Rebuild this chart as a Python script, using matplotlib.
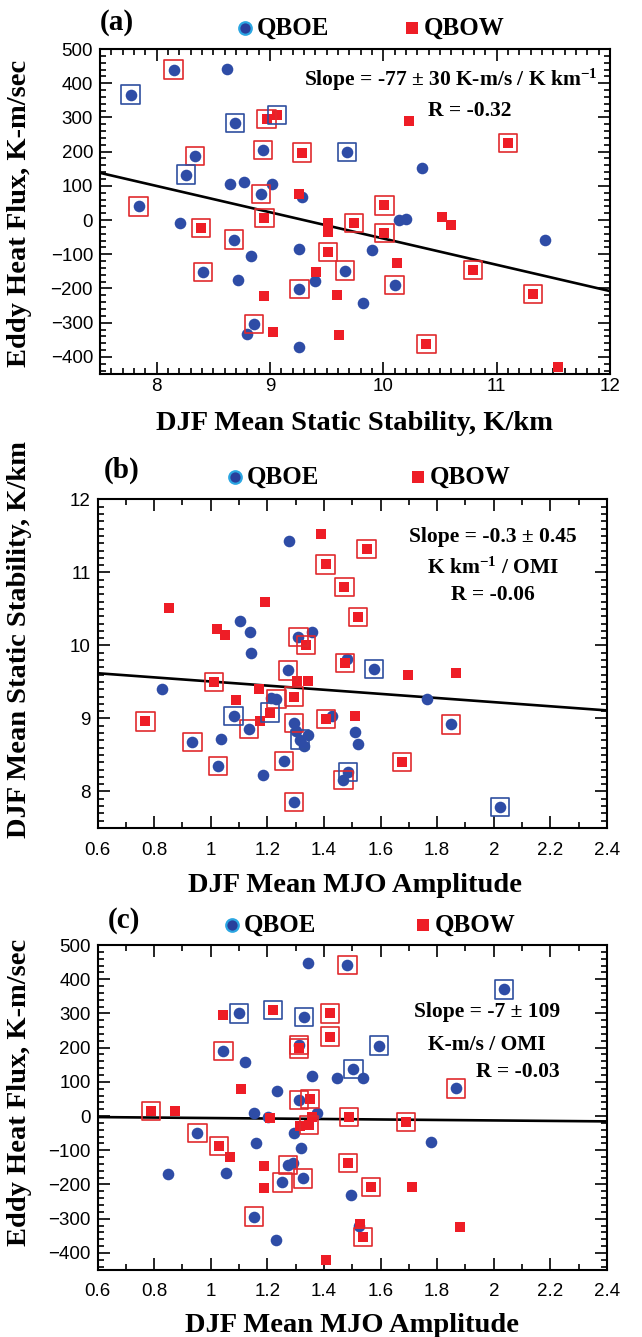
import numpy as np
import matplotlib
matplotlib.use('Agg')
import matplotlib.pyplot as plt
from matplotlib.lines import Line2D
from matplotlib.ticker import MultipleLocator, FixedLocator, FixedFormatter

plt.rcParams['mathtext.default'] = 'regular'

# ---------------- Panel (a): static stability vs eddy heat flux ----------------
a_e_x = [8.15, 8.62, 7.77, 8.69, 8.94, 9.68, 8.34, 10.34, 8.26, 8.65, 8.77, 9.02, 8.92, 9.28,
         7.84, 8.21, 10.14, 10.20, 11.43, 8.68, 8.83, 9.26, 9.90, 8.41, 8.72, 9.66, 9.40, 9.26,
         10.10, 9.82, 8.86, 8.80, 9.26]
a_e_y = [440, 443, 367, 284, 204, 199, 187, 152, 133, 106, 111, 106, 77, 67,
         40, -8, -1, 3, -57, -57, -104, -84, -87, -152, -175, -148, -177, -202,
         -189, -243, -304, -332, -372]
a_e_box = ['r', '', 'b', 'b', 'r', 'b', 'r', '', 'b', '', '', '', 'r', '',
           'r', '', '', '', '', 'r', '', '', '', 'r', '', 'r', '', 'r',
           'r', '', 'r', '', '']
a_w_x = [8.97, 9.06, 10.23, 9.28, 11.10, 9.26, 10.01, 8.95, 8.39, 9.51, 9.51, 9.74, 10.01,
         10.52, 10.60, 9.51, 10.12, 10.79, 9.41, 11.32, 8.95, 9.59, 9.03, 9.61, 10.38, 11.54]
a_w_y = [295, 307, 290, 197, 225, 75, 43, 6, -23, -9, -36, -8, -38,
         8, -13, -94, -126, -146, -153, -216, -221, -218, -326, -335, -363, -430]
a_w_box = ['r', 'b', '', 'r', 'r', '', 'r', 'r', 'r', '', '', 'r', 'r',
           '', '', 'r', '', 'r', '', 'r', '', '', '', '', 'r', '']
a_fit = (714.0, -76.8)

# ---------------- Panel (b): MJO amplitude vs static stability ----------------
b_e_x = [1.278, 1.105, 1.138, 1.310, 1.359, 1.142, 1.480, 1.577, 1.274, 0.828, 1.212, 1.232,
         1.764, 1.081, 1.430, 1.136, 1.295, 1.301, 1.316, 1.330, 1.345, 1.849, 1.510, 1.522,
         0.935, 1.035, 1.025, 1.258, 1.186, 1.486, 1.469, 1.295, 2.022]
b_e_y = [11.43, 10.33, 10.18, 10.12, 10.19, 9.90, 9.82, 9.68, 9.66, 9.41, 9.28, 9.27,
         9.27, 9.03, 9.03, 8.86, 8.94, 8.83, 8.71, 8.63, 8.77, 8.92, 8.81, 8.65,
         8.68, 8.72, 8.35, 8.42, 8.23, 8.27, 8.16, 7.86, 7.79]
b_e_box = ['', '', '', 'r', '', '', '', 'b', 'r', '', '', 'r',
           '', 'b', '', 'r', 'r', '', 'b', '', '', 'r', '', '',
           'r', '', 'r', 'r', '', 'b', 'r', 'r', 'b']
b_w_x = [1.390, 1.551, 1.406, 1.472, 1.190, 0.854, 1.521, 1.023, 1.050, 1.337, 1.475, 1.698,
         1.867, 1.012, 1.304, 1.343, 1.172, 1.294, 1.088, 1.210, 1.407, 1.511, 0.769, 1.174, 1.675]
b_w_y = [11.53, 11.32, 11.11, 10.80, 10.59, 10.52, 10.39, 10.23, 10.15, 10.01, 9.76, 9.59,
         9.62, 9.50, 9.51, 9.52, 9.41, 9.30, 9.26, 9.08, 8.99, 9.03, 8.96, 8.96, 8.40]
b_w_box = ['', 'r', 'r', 'r', '', '', 'r', '', '', 'r', 'r', '',
           '', 'r', '', '', '', 'r', '', 'b', 'r', '', 'r', '', 'r']
b_fit = (9.79, -0.283)

# ---------------- Panel (c): MJO amplitude vs eddy heat flux ----------------
c_e_x = [1.345, 1.483, 2.036, 1.099, 1.330, 1.311, 1.595, 1.045, 1.121, 1.504, 1.359, 1.447,
         1.539, 1.233, 1.312, 1.866, 1.152, 1.204, 1.375, 0.953, 1.294, 1.159, 1.318, 1.778,
         1.274, 1.290, 0.848, 1.053, 1.253, 1.327, 1.496, 1.154, 1.525, 1.230]
c_e_y = [446, 441, 370, 300, 289, 208, 206, 191, 159, 137, 117, 110,
         112, 73, 47, 81, 8, -2, 8, -49, -49, -80, -94, -75,
         -143, -138, -168, -166, -194, -182, -232, -294, -322, -363]
c_e_box = ['', 'r', 'b', 'b', 'b', 'r', 'b', 'r', '', 'b', '', '',
           '', '', 'r', 'r', '', '', '', 'r', '', '', '', '',
           'r', '', '', '', 'r', 'r', '', 'r', '', '']
c_w_x = [1.042, 1.221, 1.422, 1.422, 1.312, 1.107, 1.351, 0.789, 0.874, 1.210, 1.357, 1.316,
         1.348, 1.489, 1.689, 1.030, 1.069, 1.187, 1.486, 1.189, 1.566, 1.711, 1.528, 1.537,
         1.880, 1.407]
c_w_y = [295, 310, 300, 232, 198, 79, 49, 15, 16, -7, -2, -29,
         -26, -2, -17, -87, -119, -145, -138, -211, -207, -208, -316, -353,
         -324, -420]
c_w_box = ['', 'b', 'r', 'r', 'r', '', 'r', 'r', '', '', '', '',
           'r', 'r', 'r', 'r', '', '', 'r', '', 'r', '', '', 'r',
           '', '']
c_fit = (1.2, -7.0)

# ---------------- Text ----------------
flux_label = 'Eddy Heat Flux, K-m/sec'
stab_label = 'DJF Mean Static Stability, K/km'
mjo_label = 'DJF Mean MJO Amplitude'
a_text = ['Slope = -77 \u00b1 30 K-m/s / K km$^{-1}$', 'R = -0.32']
b_text = ['Slope = -0.3 \u00b1 0.45', 'K km$^{-1}$ / OMI', 'R = -0.06']
c_text = ['Slope = -7 \u00b1 109', 'K-m/s / OMI', 'R = -0.03']
mjo_ticks = [0.6, 0.8, 1.0, 1.2, 1.4, 1.6, 1.8, 2.0, 2.2, 2.4]
mjo_ticklabels = ['0.6', '0.8', '1', '1.2', '1.4', '1.6', '1.8', '2', '2.2', '2.4']
stab_ticks = [8, 9, 10, 11, 12]
flux_ticks = [-400, -300, -200, -100, 0, 100, 200, 300, 400, 500]

# ---------------- Style ----------------
BLUE = '#2E4CA6'
RED = '#EE1D26'
RED_BOX = '#E02A2E'
BLUE_BOX = '#2F4FA0'
SERIF = 'Liberation Serif'
SANS = 'Liberation Sans'

W, H = 642, 1337
fig = plt.figure(figsize=(W / 100, H / 100), dpi=100)


def frect(l, t, r, b):
    return [l / W, 1 - b / H, (r - l) / W, (b - t) / H]


def draw(ax, ex, ey, ebox, wx, wy, wbox, fit, xlim):
    ax.scatter(ex, ey, s=70, c=BLUE, marker='o', linewidths=0, zorder=3)
    ax.scatter(wx, wy, s=50, c=RED, marker='s', linewidths=0, zorder=4)
    for xs, ys, boxes in ((ex, ey, ebox), (wx, wy, wbox)):
        for code, col in (('r', RED_BOX), ('b', BLUE_BOX)):
            sel = [i for i, b in enumerate(boxes) if b == code]
            ax.scatter(np.array(xs)[sel], np.array(ys)[sel], s=175, marker='s',
                       facecolors='none', edgecolors=col, linewidths=1.2, zorder=5)
    xx = np.array(xlim)
    ax.plot(xx, fit[0] + fit[1] * xx, color='k', lw=1.9, zorder=2)


def style(ax, xpad):
    for s in ax.spines.values():
        s.set_linewidth(1.5)
    ax.tick_params(which='both', direction='in', top=True, right=True, width=1.2)
    ax.tick_params(which='major', length=8.5)
    ax.tick_params(which='minor', length=4.2)
    ax.tick_params(axis='x', pad=xpad)
    ax.tick_params(axis='y', pad=5)
    for lab in ax.get_xticklabels() + ax.get_yticklabels():
        lab.set_fontfamily(SANS)
        lab.set_fontsize(13.5)


def legend(label, lx, ly):
    fig.text(lx / W, 1 - ly / H, label, fontsize=21, fontweight='bold', family=SERIF,
             ha='left', va='center')


def qbo_legend(cx, sx, ly):
    fig.add_artist(Line2D([(cx) / W], [1 - ly / H], transform=fig.transFigure, marker='o',
                          markersize=9, markerfacecolor='#283F9C', markeredgecolor='#2BA6E2',
                          markeredgewidth=1.6, linestyle='none'))
    fig.text((cx + 12) / W, 1 - ly / H, 'QBOE', fontsize=18, fontweight='bold', family=SERIF,
             ha='left', va='center')
    fig.add_artist(Line2D([(sx) / W], [1 - ly / H], transform=fig.transFigure, marker='s',
                          markersize=8, markerfacecolor=RED, markeredgewidth=0, linestyle='none'))
    fig.text((sx + 12) / W, 1 - ly / H, 'QBOW', fontsize=18, fontweight='bold', family=SERIF,
             ha='left', va='center')


# ---- (a)
axa = fig.add_axes(frect(100, 49, 610, 374))
draw(axa, a_e_x, a_e_y, a_e_box, a_w_x, a_w_y, a_w_box, a_fit, (7.5, 12))
axa.set_xlim(7.5, 12)
axa.set_ylim(-450, 500)
axa.xaxis.set_major_locator(FixedLocator(stab_ticks))
axa.xaxis.set_minor_locator(MultipleLocator(0.1))
axa.yaxis.set_major_locator(FixedLocator(flux_ticks))
axa.yaxis.set_minor_locator(MultipleLocator(20))
style(axa, 3)
axa.text(0.975, 0.905, a_text[0], transform=axa.transAxes, ha='right', va='center',
         fontsize=15.5, fontweight='bold', family=SERIF)
axa.text(0.725, 0.81, a_text[1], transform=axa.transAxes, ha='center', va='center',
         fontsize=15.5, fontweight='bold', family=SERIF)
legend('(a)', 100, 22)
qbo_legend(245, 412, 28)
fig.text(20 / W, 1 - 213 / H, flux_label, rotation=90, fontsize=20.5, fontweight='bold',
         family=SERIF, ha='center', va='center')
fig.text(355 / W, 1 - 424 / H, stab_label, fontsize=20.5, fontweight='bold',
         family=SERIF, ha='center', va='center')

# ---- (b)
axb = fig.add_axes(frect(97.5, 499.5, 607, 828))
draw(axb, b_e_x, b_e_y, b_e_box, b_w_x, b_w_y, b_w_box, b_fit, (0.6, 2.4))
axb.set_xlim(0.6, 2.4)
axb.set_ylim(7.5, 12)
axb.xaxis.set_major_locator(FixedLocator(mjo_ticks))
axb.xaxis.set_major_formatter(FixedFormatter(mjo_ticklabels))
axb.xaxis.set_minor_locator(MultipleLocator(0.1))
axb.yaxis.set_major_locator(FixedLocator(stab_ticks))
axb.yaxis.set_minor_locator(MultipleLocator(0.1))
style(axb, 10)
for i, (t, yy) in enumerate(zip(b_text, (537, 568, 595))):
    fig.text(493 / W, 1 - yy / H, t, ha='center', va='center',
             fontsize=15.5, fontweight='bold', family=SERIF)
legend('(b)', 104, 470)
qbo_legend(235, 418, 477)
fig.text(20 / W, 1 - 640 / H, stab_label, rotation=90, fontsize=20.5, fontweight='bold',
         family=SERIF, ha='center', va='center')
fig.text(355 / W, 1 - 886 / H, mjo_label, fontsize=20.5, fontweight='bold',
         family=SERIF, ha='center', va='center')

# ---- (c)
axc = fig.add_axes(frect(97.5, 945, 607, 1270))
draw(axc, c_e_x, c_e_y, c_e_box, c_w_x, c_w_y, c_w_box, c_fit, (0.6, 2.4))
axc.set_xlim(0.6, 2.4)
axc.set_ylim(-450, 500)
axc.xaxis.set_major_locator(FixedLocator(mjo_ticks))
axc.xaxis.set_major_formatter(FixedFormatter(mjo_ticklabels))
axc.xaxis.set_minor_locator(MultipleLocator(0.1))
axc.yaxis.set_major_locator(FixedLocator(flux_ticks))
axc.yaxis.set_minor_locator(MultipleLocator(20))
style(axc, 9)
for i, (t, yy) in enumerate(zip(c_text, (1012, 1045, 1072))):
    fig.text((487 if i < 2 else 518) / W, 1 - yy / H, t, ha='center', va='center',
             fontsize=15.5, fontweight='bold', family=SERIF)
legend('(c)', 108, 920)
qbo_legend(232, 423, 925)
fig.text(20 / W, 1 - 1092 / H, flux_label, rotation=90, fontsize=20.5, fontweight='bold',
         family=SERIF, ha='center', va='center')
fig.text(352 / W, 1 - 1326 / H, mjo_label, fontsize=20.5, fontweight='bold',
         family=SERIF, ha='center', va='center')

fig.savefig('out.png', dpi=100)
